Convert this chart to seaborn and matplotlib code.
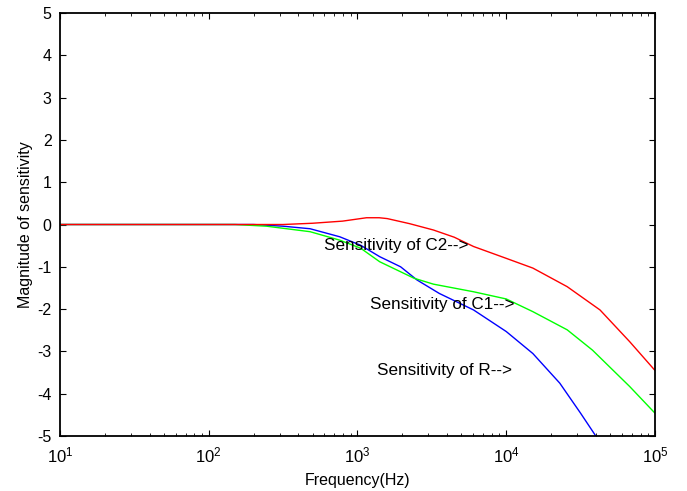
import matplotlib
matplotlib.use("Agg")
import matplotlib.pyplot as plt
import seaborn as sns
import pandas as pd

# Sensitivity of C2 (red)
freq_c2 = [10, 200, 316, 500, 794, 1150, 1400, 1585, 2240, 3240, 4470, 6030,
           10000, 15100, 25700, 42700, 67600, 100000]
sens_c2 = [0.0, 0.0, 0.0, 0.03, 0.08, 0.16, 0.16, 0.14, 0.02, -0.13, -0.30, -0.52,
           -0.80, -1.03, -1.47, -2.02, -2.77, -3.45]

# Sensitivity of C1 (green)
freq_c1 = [10, 150, 245, 480, 760, 1050, 1410, 2400, 3240, 6030,
           10000, 15100, 25700, 38000, 67600, 100000]
sens_c1 = [0.0, 0.0, -0.04, -0.17, -0.37, -0.56, -0.88, -1.27, -1.41, -1.59,
           -1.76, -2.06, -2.49, -2.97, -3.83, -4.46]

# Sensitivity of R (blue)
freq_r = [10, 200, 316, 480, 760, 1050, 1410, 1950, 2510, 3550, 6030,
          10000, 15100, 22900, 31600, 40000]
sens_r = [0.0, 0.0, -0.04, -0.10, -0.29, -0.49, -0.76, -1.00, -1.31, -1.63,
          -2.02, -2.53, -3.05, -3.75, -4.46, -5.0]

labels = ["Sensitivity of C2-->", "Sensitivity of C1-->", "Sensitivity of R-->"]
label_x = [596, 1205, 1350]
label_y = [-0.5, -1.90, -3.44]

sns.set_style("ticks", {"text.color": "black", "axes.edgecolor": "black",
                        "xtick.color": "black", "ytick.color": "black",
                        "axes.labelcolor": "black"})
plt.rcParams['font.family'] = ['Liberation Sans', 'DejaVu Sans']
plt.rcParams['axes.unicode_minus'] = False

fig = plt.figure(figsize=(6.87, 4.91), dpi=100)
ax = fig.add_axes([0.0873, 0.112, 0.8661, 0.8615])

# draw R first so C2 ends up on top along the flat part
series = [(freq_r, sens_r, "blue"), (freq_c1, sens_c1, "#00ff00"), (freq_c2, sens_c2, "red")]
for f, s, c in series:
    df = pd.DataFrame({"freq": f, "sens": s})
    sns.lineplot(data=df, x="freq", y="sens", color=c, linewidth=1.0, ax=ax)

for t, x, y in zip(labels, label_x, label_y):
    ax.text(x, y, t, fontsize=12.3, va="center", ha="left", color="black")

ax.set_xscale("log")
ax.set_xlim(10, 1e5)
ax.set_ylim(-5, 5)
ax.set_yticks(range(-5, 6))
ax.set_xlabel("Frequency(Hz)", fontsize=11.5, labelpad=5)
ax.set_ylabel("Magnitude of sensitivity", fontsize=11.5, labelpad=3)
ax.tick_params(which="both", direction="in", top=True, right=True)
ax.tick_params(axis="y", labelsize=11.5, pad=6)
ax.tick_params(axis="x", labelsize=12, pad=7)
ax.tick_params(which="major", length=4)
ax.tick_params(which="minor", length=2.5)
for sp in ax.spines.values():
    sp.set_linewidth(1.3)
    sp.set_visible(True)

fig.savefig("out.png", dpi=100)
